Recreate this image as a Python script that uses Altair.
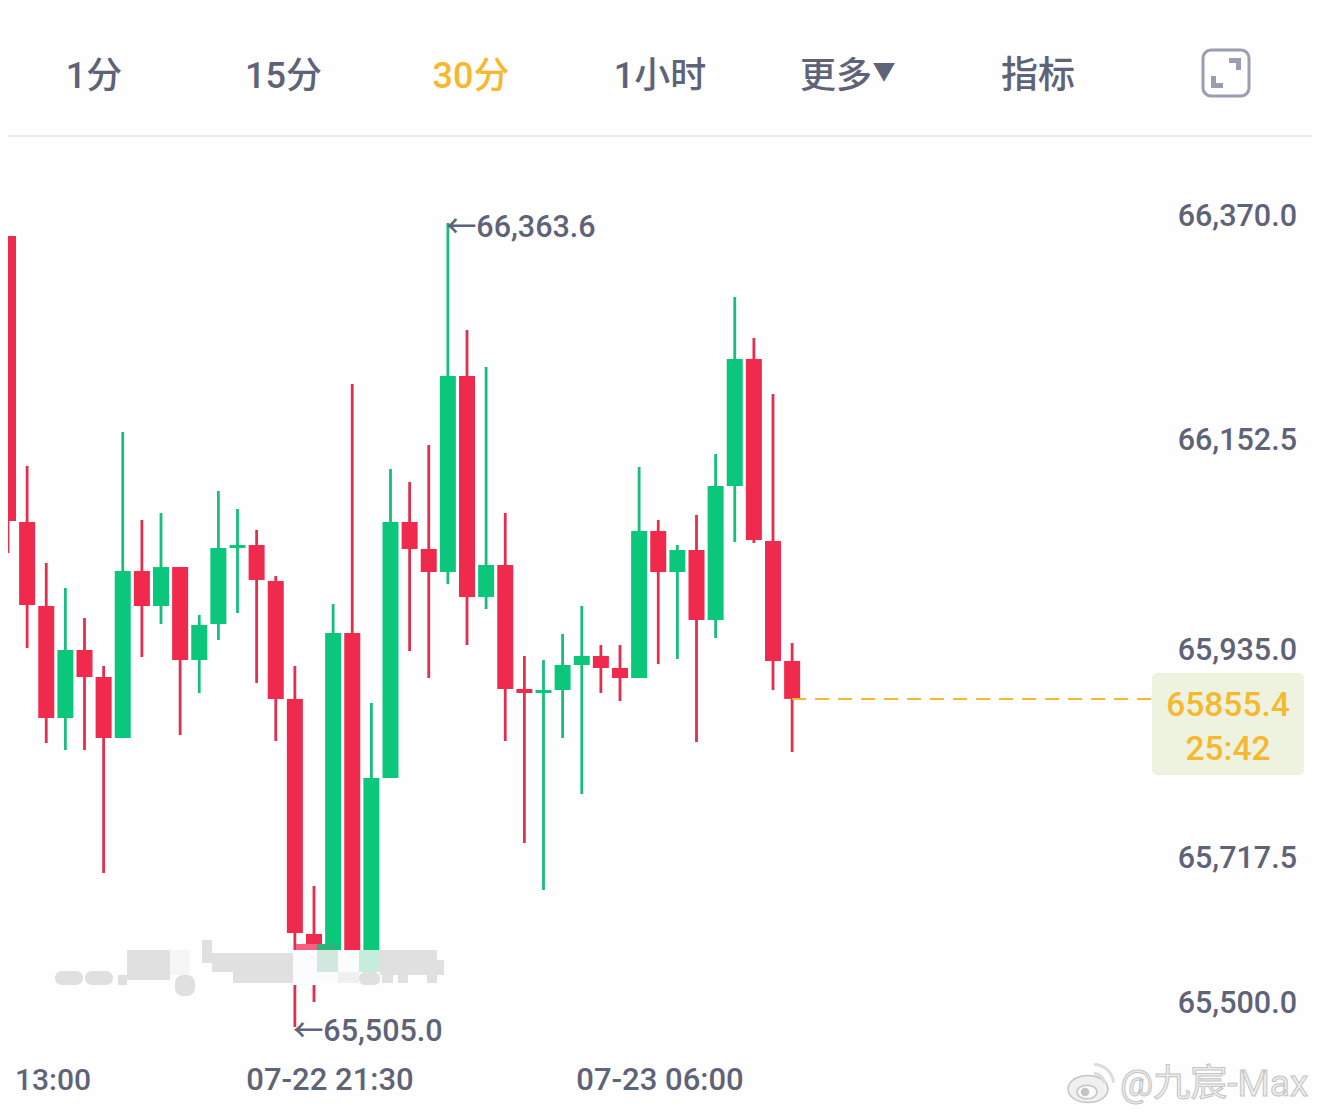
import altair as alt
import pandas as pd

# ---- values ----
opens = [66349.7,66044.3,65954.6,65835.0,65907.6,65878.8,65813.6,65992.0,65954.6,65996.2,65896.9,65935.4,66016.5,66019.7,
         65981.3,65855.3,65604.3,65587.2,65925.8,65587.2,65770.9,66044.3,66015.5,65990.9,66200.2,65964.2,65998.4,65866.0,
         65861.7,65864.9,65891.6,65901.2,65888.4,65877.7,66034.7,65990.9,66014.4,65939.6,66082.7,66218.4,66024.0,65895.9]
highs = [66349.7,66104.1,66000.5,65973.8,65941.8,65890.5,66140.4,66046.4,66053.9,65996.2,65945.0,66077.4,66058.2,66035.8,
         65986.6,65890.5,65655.6,65956.7,66191.7,65851.0,66100.9,66087.0,66126.5,66363.6,66249.3,66209.8,66053.9,65901.2,
         65896.9,65924.7,65954.6,65912.9,65912.9,66103.0,66046.4,66019.7,66051.8,66116.9,66284.6,66240.8,66181.0,65915.1]
lows = [66011.2,65909.7,65808.3,65800.8,65800.8,65669.5,65813.6,65900.1,65935.4,65816.8,65861.7,65918.3,65947.1,65872.4,
        65810.4,65505.0,65531.7,65587.2,65587.2,65587.2,65770.9,65906.5,65877.7,65978.1,65912.9,65951.4,65810.4,65701.5,
        65651.3,65813.6,65753.8,65861.7,65853.1,65877.7,65892.7,65898.0,65809.4,65920.4,66022.9,66021.9,65864.9,65798.7]
closes = [66045.4,65955.7,65835.0,65907.6,65878.8,65813.6,65992.0,65954.6,65996.2,65896.9,65934.3,66016.5,66019.7,65982.4,
          65855.3,65605.4,65587.2,65925.8,65587.2,65770.9,66044.3,66015.5,65990.9,66200.2,65964.2,65998.4,65866.0,65861.7,
          65864.9,65891.6,65901.2,65888.4,65877.7,66034.7,65990.9,66014.4,65939.6,66082.7,66218.4,66025.1,65895.9,65855.4]
axis_labels = ["66,370.0", "66,152.5", "65,935.0", "65,717.5", "65,500.0"]
time_labels = ["13:00", "07-22 21:30", "07-23 06:00"]
nav_labels = ["1分", "15分", "30分", "1小时", "更多", "指标"]
last_price = 65855.4

# ---- layout (page pixels, the page margin is taken off below) ----
W, H = 1304, 1100
M = 8
FONT = "Roboto, Noto Sans CJK SC, sans-serif"
GREY = "#5e6377"
GOLD = "#f5b82e"
RED = "#f02a4c"
GREEN = "#0bc77c"

x_scale = alt.Scale(domain=[0, W / 19.125], nice=False, zero=False, padding=0)
y_scale = alt.Scale(domain=[66593.2 - H * 1.0679, 66593.2], nice=False, zero=False)

df = pd.DataFrame({"i": range(len(opens)), "open": opens, "high": highs, "low": lows, "close": closes})
df["body"] = [GREEN if c >= o else RED for o, c in zip(opens, closes)]
df["wick"] = ["#17be7c" if c >= o else "#e22f50" for o, c in zip(opens, closes)]
X = alt.X("i:Q", scale=x_scale, axis=None)

wicks = alt.Chart(df).mark_rule(strokeWidth=2.8, clip=True).encode(
    x=X, y=alt.Y("low:Q", scale=y_scale, axis=None), y2="high:Q", color=alt.Color("wick:N", scale=None))
bodies = alt.Chart(df).mark_bar(size=16, orient="vertical", clip=True).encode(
    x=X, y=alt.Y("open:Q", scale=y_scale, axis=None), y2="close:Q", color=alt.Color("body:N", scale=None))

one = alt.Data(values=[{"a": 1}])

def rect(x0, x1, y0, y1, fill, **kw):
    return alt.Chart(one).mark_rect(fill=fill, **kw).encode(
        x=alt.value(x0 - M), x2=alt.value(x1 - M), y=alt.value(y0 - M), y2=alt.value(y1 - M))

def text(s, x, y, size, col=GREY, align="center", weight=500, **kw):
    return alt.Chart(one).mark_text(fontSize=size, font=FONT, fontWeight=weight, color=col,
                                    align=align, baseline="middle", **kw).encode(
        x=alt.value(x - M), y=alt.value(y - M + 2), text=alt.value(s))

layers = [wicks, bodies]

# smudge over the chart's lower part
S = "#e0e0e0"
smudge = [
    (55, 83, 971, 985, S, 7), (85, 113, 971, 985, S, 7), (118, 127, 975, 985, S, 0),
    (127, 170, 950, 980, S, 0), (170, 190, 950, 975, "#f6f6f6", 0), (175, 195, 975, 996, S, 8),
    (202, 212, 940, 963, S, 0), (212, 296, 953, 972, S, 0), (233, 296, 972, 983, S, 0),
    (293, 317, 950, 985, "#fbfcfd", 0), (317, 338, 950, 972, "#d2e7de", 0), (317, 338, 972, 982, "#fbfcfd", 0),
    (338, 359, 950, 972, "#fbfcfd", 0), (338, 359, 972, 983, "#f0f0f0", 0), (359, 380, 950, 972, "#c6ecdb", 0),
    (359, 380, 972, 985, S, 6), (380, 437, 950, 975, S, 0), (380, 444, 960, 975, S, 0),
    (382, 393, 975, 983, S, 0), (398, 408, 975, 983, S, 0), (427, 437, 975, 983, S, 0),
    (296, 317, 944, 950, "#f5617f", 0), (317, 338, 944, 950, "#2db37a", 0),
]
for x0, x1, y0, y1, fill, r in smudge:
    if r:
        layers.append(rect(x0, x1, y0, y1, fill, cornerRadius=r))
    else:
        layers.append(rect(x0, x1, y0, y1, fill))

# top bar
nav_x = [94, 283.5, 471, 660, 836, 1038]
nav_size = [36, 36, 36, 36, 36, 37]
for s, x, fs in zip(nav_labels, nav_x, nav_size):
    layers.append(text(s, x, 75, fs, GOLD if s == "30分" else GREY))
layers.append(text("▼", 884, 71, 23, GREY))
layers.append(rect(0, 1320, 135, 137, "#e9ebef"))

# expand icon
layers.append(alt.Chart(one).mark_rect(fill="#fefefe", stroke="#9a9eae", strokeWidth=3, cornerRadius=8).encode(
    x=alt.value(1203 - M), x2=alt.value(1249 - M), y=alt.value(50 - M), y2=alt.value(96 - M)))
for r in [(1229, 1241, 58, 63), (1236, 1241, 58, 70), (1211, 1216, 76, 88), (1211, 1223, 83, 88)]:
    layers.append(rect(*r, "#9a9eae"))

# price axis labels
for s, y in zip(axis_labels, [215, 439, 649, 857, 1002]):
    layers.append(text(s, 1297, y, 30.5, align="right"))

# time labels
for s, x, a in zip(time_labels, [15, 330, 660], ["left", "center", "center"]):
    layers.append(text(s, x, 1079, 31 if a == "center" else 30, align=a))

# high / low annotations
for price in [max(highs), min(lows)]:
    i = highs.index(price) if price == max(highs) else lows.index(price)
    layers.append(alt.Chart(one).mark_text(fontSize=30.5, font=FONT, fontWeight=500, color=GREY,
                                           align="left", baseline="middle", dx=-2, dy=5).encode(
        x=alt.X("d:Q", scale=x_scale, axis=None),
        y=alt.Y("p:Q", scale=y_scale, axis=None),
        text=alt.value("←" + f"{price:,.1f}")).transform_calculate(d=str(i), p=str(price)))

# last price line and tag
layers.append(alt.Chart(pd.DataFrame({"i": [41], "p": [last_price]})).mark_rule(
    color=GOLD, strokeWidth=2, strokeDash=[14, 9]).encode(
    x=X, x2=alt.value(1152 - M), y=alt.Y("p:Q", scale=y_scale, axis=None)))
layers.append(rect(1152, 1304, 673, 775, "#eef3e0", cornerRadius=5))
layers.append(text(f"{last_price}", 1228, 704, 33.5, GOLD))
layers.append(text("25:42", 1228, 748, 33.5, GOLD))

# watermark
WM = "#c4c4c4"
layers.append(alt.Chart(one).mark_text(fontSize=37, font=FONT, fontWeight=400, color="#eeeeee", stroke=WM,
                                       strokeWidth=1, align="left", baseline="middle").encode(
    x=alt.value(1120 - M), y=alt.value(1085 - M), text=alt.value("@九宸-Max")))
ELL = "M -1 0 A 1 0.68 0 1 1 1 0 A 1 0.68 0 1 1 -1 0 Z"
for x, y, d, sw, fill, shape in [(1088, 1089, 40, 1.5, "#f0f0f0", ELL), (1087, 1092, 20, 1.5, "#fafafa", ELL),
                                 (1085, 1092, 7, 1.5, "#c4c4c4", "circle")]:
    layers.append(alt.Chart(one).mark_point(filled=True, shape=shape, size=d * d, fill=fill, stroke=WM,
                                            strokeWidth=sw, opacity=1).encode(
        x=alt.value(x - M), y=alt.value(y - M)))
for r0, r1 in [(9, 12), (18, 21)]:
    layers.append(alt.Chart(one).mark_arc(radius=r1, radius2=r0, theta=0.0, theta2=1.5, fill="#dcdcdc").encode(
        x=alt.value(1094 - M), y=alt.value(1084 - M)))

chart = alt.layer(*layers).properties(
    width=W, height=H, padding=0, background="#fefefe",
    autosize=alt.AutoSizeParams(type="none"),
).configure_view(stroke=None)

chart.save("out.html", embed_options={"renderer": "svg", "actions": False})
